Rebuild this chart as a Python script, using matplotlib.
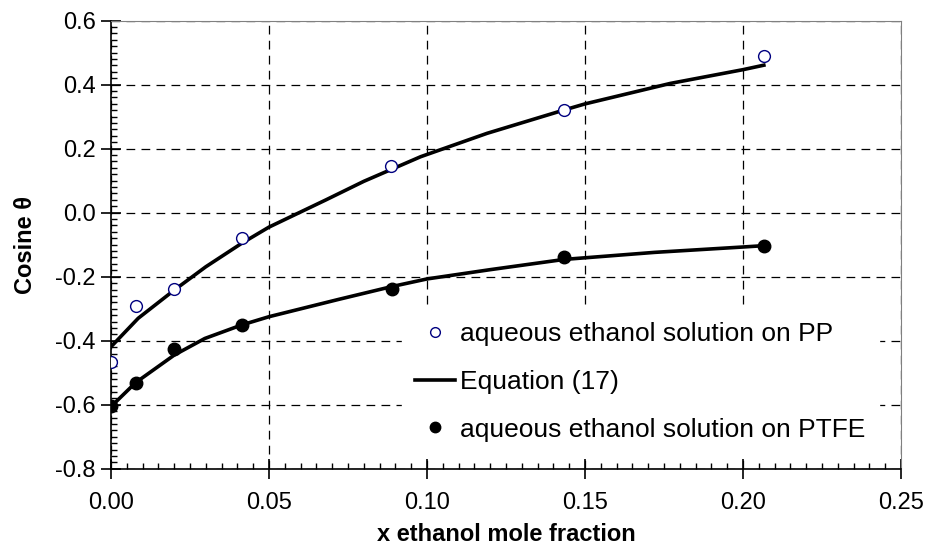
import matplotlib as mpl
mpl.use('Agg')
import matplotlib.pyplot as plt
from matplotlib.ticker import MultipleLocator
from matplotlib.lines import Line2D

plt.rcParams['font.family'] = ['Liberation Sans', 'DejaVu Sans']

# measured contact angles (cosine)
x_pp = [0.0, 0.0078, 0.020, 0.0416, 0.0886, 0.1434, 0.2066]
cos_pp = [-0.467, -0.292, -0.239, -0.080, 0.146, 0.322, 0.491]
x_ptfe = [0.0, 0.0078, 0.020, 0.0413, 0.0888, 0.1434, 0.2066]
cos_ptfe = [-0.604, -0.533, -0.426, -0.351, -0.239, -0.140, -0.103]

# Equation (17) curves
x_eq_pp = [0.0, 0.0086, 0.020, 0.030, 0.0413, 0.050, 0.068, 0.080, 0.098,
           0.119, 0.1434, 0.150, 0.177, 0.200, 0.2066]
eq_pp = [-0.419, -0.330, -0.242, -0.169, -0.096, -0.045, 0.040, 0.098, 0.175,
         0.248, 0.321, 0.340, 0.404, 0.447, 0.461]
x_eq_ptfe = [0.0, 0.0078, 0.020, 0.0297, 0.0413, 0.050, 0.072, 0.0888, 0.100,
             0.120, 0.1434, 0.172, 0.2003, 0.2066]
eq_ptfe = [-0.606, -0.531, -0.445, -0.393, -0.351, -0.325, -0.271, -0.231, -0.207,
           -0.178, -0.146, -0.124, -0.107, -0.103]

fig = plt.figure(figsize=(9.27, 5.6), dpi=100)
ax = fig.add_axes([111 / 927, 1 - 468.7 / 560, 790 / 927, 448 / 560])

ax.plot(x_eq_pp, eq_pp, '-', color='black', lw=2.6, zorder=3)
ax.plot(x_eq_ptfe, eq_ptfe, '-', color='black', lw=2.6, zorder=3)
ax.plot(x_pp, cos_pp, 'o', ms=8.5, mfc='white', mec='#000080', mew=1.0, zorder=4)
ax.plot(x_ptfe, cos_ptfe, 'o', ms=9, mfc='black', mec='black', zorder=4)

ax.set_xlim(0, 0.25)
ax.set_ylim(-0.8, 0.6)
ax.xaxis.set_major_locator(MultipleLocator(0.05))
ax.xaxis.set_minor_locator(MultipleLocator(0.005))
ax.yaxis.set_major_locator(MultipleLocator(0.2))
ax.yaxis.set_minor_locator(MultipleLocator(0.02))
ax.xaxis.set_major_formatter(mpl.ticker.FormatStrFormatter('%.2f'))
ax.yaxis.set_major_formatter(mpl.ticker.FormatStrFormatter('%.1f'))
ax.tick_params(which='major', direction='inout', length=14, width=1.2,
               labelsize=17, pad=4)
ax.tick_params(which='minor', direction='in', length=4, width=1.0)
ax.tick_params(axis='x', which='major', pad=10)

ax.grid(True, which='major', color='black', linestyle=(0, (7, 5)), lw=0.9)
for s in ['top', 'right']:
    ax.spines[s].set_color('#808080')
for s in ['left', 'bottom']:
    ax.spines[s].set_linewidth(1.2)

ax.set_xlabel('x ethanol mole fraction', fontsize=17, fontweight='bold', labelpad=6)
ax.set_ylabel('Cosine θ', fontsize=17, fontweight='bold', labelpad=13)

handles = [Line2D([], [], ls='none', marker='o', ms=7, mfc='white', mec='#000080'),
           Line2D([], [], color='black', lw=2.6),
           Line2D([], [], ls='none', marker='o', ms=7.5, mfc='black', mec='black')]
labels = ['aqueous ethanol solution on PP', 'Equation (17)',
          'aqueous ethanol solution on PTFE']
leg = ax.legend(handles, labels, loc='upper left',
                bbox_to_anchor=((402 - 111) / 790, (468.7 - 309) / 448),
                fontsize=19, frameon=True, fancybox=False, edgecolor='white',
                facecolor='white', framealpha=1, handlelength=1.5,
                handletextpad=0.2, labelspacing=0.9, borderpad=0.5,
                borderaxespad=0)
leg.set_zorder(5)

plt.savefig('out.png', dpi=100)
plt.close()
